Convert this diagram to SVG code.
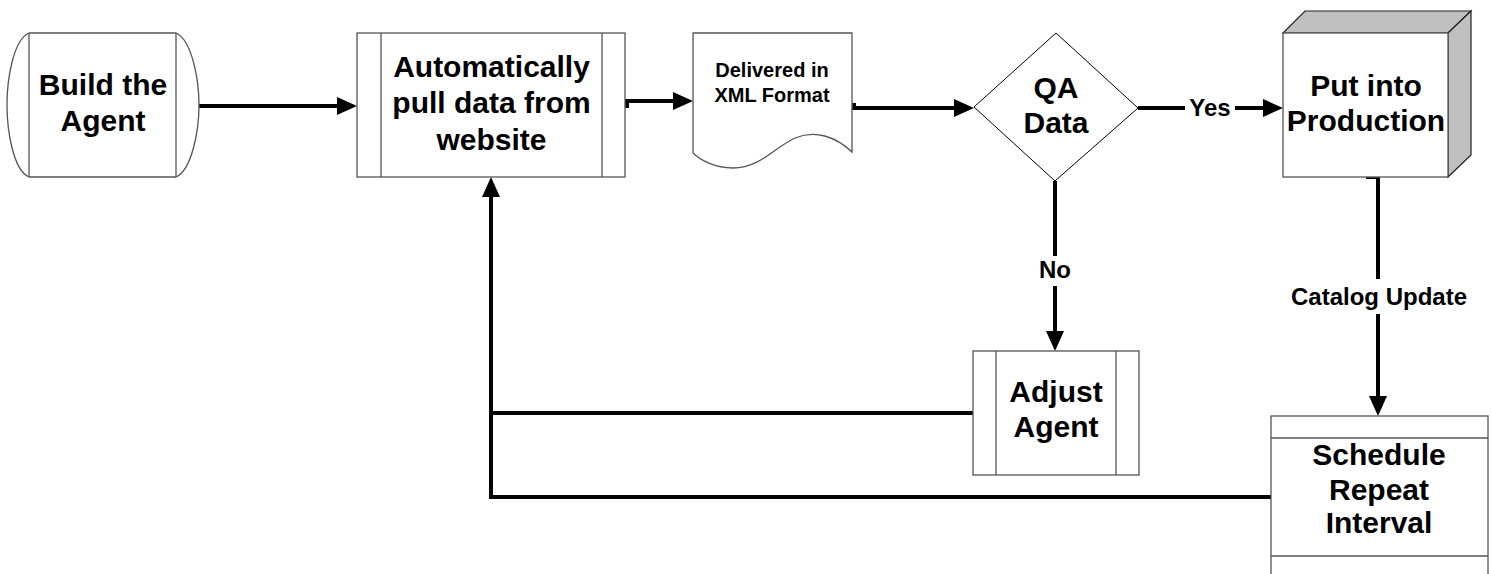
<svg xmlns="http://www.w3.org/2000/svg" width="1492" height="574" viewBox="0 0 1492 574">
<style>
.n{fill:#fff;stroke:#555;stroke-width:1.3}
.ln{stroke:#555;stroke-width:1.3;fill:none}
.t{font-family:"Liberation Sans",Arial,sans-serif;font-weight:bold;font-size:30px;text-anchor:middle;fill:#000}
.s{font-size:20px}
.l{font-size:24px}
.c{fill:none;stroke:#000;stroke-width:4}
</style>
<defs>
<marker id="a" viewBox="0 0 20 18" refX="1" refY="9" markerWidth="20" markerHeight="18" markerUnits="userSpaceOnUse" orient="auto">
<path d="M0,0 L20,9 L0,18 Z" fill="#000"/>
</marker>
</defs>
<rect width="1492" height="574" fill="#fff"/>
<g id="connectors">
<path class="c" d="M199,106 H338" marker-end="url(#a)"/>
<path class="c" d="M625,106 H627 V101 H674" marker-end="url(#a)"/>
<path class="c" d="M852,105 H854 V108 H955" marker-end="url(#a)"/>
<path class="c" d="M1138,108 H1185"/>
<path class="c" d="M1235,108 H1264" marker-end="url(#a)"/>
<path class="c" d="M1055,181 V256"/>
<path class="c" d="M1055,286 V332" marker-end="url(#a)"/>
<path class="c" d="M1366,177 H1378 V279"/>
<path class="c" d="M1378,314 V397" marker-end="url(#a)"/>
<path class="c" d="M973,413 H491 V196" marker-end="url(#a)"/>
<path class="c" d="M1271,497 H491 V413"/>
<text class="t l" x="1210" y="116">Yes</text>
<text class="t l" x="1055" y="278">No</text>
<text class="t l" x="1379" y="305">Catalog Update</text>
</g>
<g id="build">
<path class="n" d="M29,33 L176,33 C192,40 199,80 199,105 C199,130 192,170 176,177 L29,177 C13,170 7,130 7,105 C7,80 13,40 29,33 Z"/>
<path class="ln" d="M29,33 V177 M176,33 V177"/>
<text class="t" x="103" y="95">Build the</text>
<text class="t" x="103" y="131">Agent</text>
</g>
<g id="auto">
<rect class="n" x="357" y="33" width="268" height="144"/>
<path class="ln" d="M381,33 V177 M602,33 V177"/>
<text class="t" x="491.5" y="77">Automatically</text>
<text class="t" x="491.5" y="113">pull data from</text>
<text class="t" x="491.5" y="150">website</text>
</g>
<g id="doc">
<path class="n" d="M693,33 L852,33 L852,152 C835,136 815,130 795,138 C775,147 760,168 733,168 C715,168 700,160 693,153 Z"/>
<text class="t s" x="772" y="77">Delivered in</text>
<text class="t s" x="772" y="102">XML Format</text>
</g>
<g id="qa">
<path d="M1056,33 L1138,108 L1055,181 L974,107 Z" fill="#fff" stroke="#000" stroke-width="1"/>
<text class="t" x="1056" y="98">QA</text>
<text class="t" x="1056" y="133">Data</text>
</g>
<g id="prod">
<path d="M1283,33 L1305,11 L1471,11 L1448,33 Z" fill="#c0c0c0" stroke="#222" stroke-width="1.2"/>
<path d="M1448,33 L1471,11 L1471,155 L1448,177 Z" fill="#c0c0c0" stroke="#222" stroke-width="1.2"/>
<rect class="n" x="1283" y="33" width="165" height="144"/>
<text class="t" x="1366" y="96">Put into</text>
<text class="t" x="1366" y="131">Production</text>
</g>
<g id="adjust">
<rect class="n" x="973" y="351" width="166" height="124"/>
<path class="ln" d="M996,351 V475 M1116,351 V475"/>
<text class="t" x="1056" y="402">Adjust</text>
<text class="t" x="1056" y="437">Agent</text>
</g>
<g id="schedule">
<rect class="n" x="1271" y="416" width="217" height="165"/>
<path class="ln" d="M1271,438 H1488 M1271,556 H1488"/>
<text class="t" x="1379" y="465">Schedule</text>
<text class="t" x="1379" y="500">Repeat</text>
<text class="t" x="1379" y="533">Interval</text>
</g>
</svg>
